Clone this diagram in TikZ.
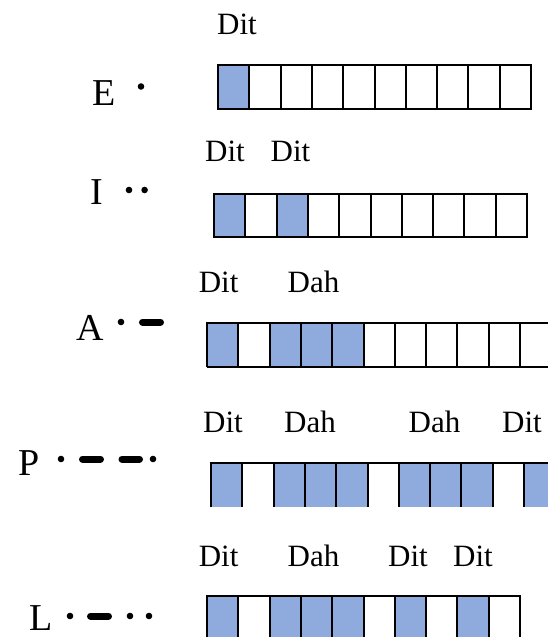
\documentclass[tikz,border=0pt]{standalone}
\usepackage{fontspec}
\setmainfont{Liberation Serif}
\definecolor{morseblue}{RGB}{143,170,220}
\tikzset{
  gridline/.style={line width=2pt, line join=miter},
  cellfill/.style={fill=morseblue},
  lbl/.style={font=\fontsize{31}{31}\selectfont, anchor=base, inner sep=0pt},
  letter/.style={font=\fontsize{38}{38}\selectfont, anchor=base, inner sep=0pt},
  dotmark/.style={fill=black},
  dashmark/.style={line width=7pt, line cap=round}
}
\begin{document}
\begin{tikzpicture}[x=1pt,y=-1pt]
\useasboundingbox (0,0) rectangle (548,637);
\clip (0,0) rectangle (548,637);
\def\w{31.3}
% ---------- Row E ----------
\fill[cellfill] (218,65) rectangle ({218+\w},109);
\draw[gridline] (218,65) rectangle ({218+10*\w},109);
\foreach \i in {1,...,9} \draw[gridline] ({218+\i*\w},65) -- ++(0,44);
\node[lbl] (dE1) at (237,34) {Dit};
\node[letter] (E) at (104,105) {E};
\fill[dotmark] (141,86.5) circle (3.3);
% ---------- Row I ----------
\foreach \i in {1,3} \fill[cellfill] ({214+(\i-1)*\w},194) rectangle ({214+\i*\w},237);
\draw[gridline] (214,194) rectangle ({214+10*\w},237);
\foreach \i in {1,...,9} \draw[gridline] ({214+\i*\w},194) -- ++(0,43);
\node[lbl] (dI1) at (225,161) {Dit};
\node[lbl] (dI2) at (290.5,161) {Dit};
\node[letter] (I) at (96.5,204) {I};
\fill[dotmark] (129,190) circle (3.3);
\fill[dotmark] (144.6,190) circle (3.3);
% ---------- Row A ----------
\foreach \i in {1,3,4,5} \fill[cellfill] ({207+(\i-1)*\w},323) rectangle ({207+\i*\w},367);
\draw[gridline] (207,367) -- (207,323) -- (560,323);
\draw[gridline] (207,367) -- (560,367);
\foreach \i in {1,...,11} \draw[gridline] ({207+\i*\w},323) -- ++(0,44);
\node[lbl] (dA1) at (218.6,292) {Dit};
\node[lbl] (dA2) at (313.5,292) {Dah};
\node[letter] (A) at (90,340) {A};
\fill[dotmark] (121,322) circle (3.3);
\draw[dashmark] (142.5,322) -- (160.5,322);
% ---------- Row P ----------
\foreach \i in {1,3,4,5,7,8,9,11} \fill[cellfill] ({211+(\i-1)*\w},463) rectangle ({211+\i*\w},507);
\draw[gridline] (211,507) -- (211,463) -- (560,463);
\foreach \i in {1,...,11} \draw[gridline] ({211+\i*\w},463) -- ++(0,44);
\node[lbl] (dP1) at (223,432) {Dit};
\node[lbl] (dP2) at (310,432) {Dah};
\node[lbl] (dP3) at (434.5,432) {Dah};
\node[lbl] (dP4) at (522,432) {Dit};
\node[letter] (P) at (29,475) {P};
\fill[dotmark] (61,459) circle (3.3);
\draw[dashmark] (82.5,459) -- (100.5,459);
\draw[dashmark] (122,459) -- (139.5,459);
\fill[dotmark] (153,459) circle (3.3);
% ---------- Row L ----------
\foreach \i in {1,3,4,5,7,9} \fill[cellfill] ({207+(\i-1)*\w},596) rectangle ({207+\i*\w},645);
\draw[gridline] (207,645) -- (207,596) -- ({207+10*\w},596) -- ({207+10*\w},645);
\foreach \i in {1,...,9} \draw[gridline] ({207+\i*\w},596) -- ++(0,49);
\node[lbl] (dL1) at (218.6,566) {Dit};
\node[lbl] (dL2) at (313.5,566) {Dah};
\node[lbl] (dL3) at (408,566) {Dit};
\node[lbl] (dL4) at (473,566) {Dit};
\node[letter] (L) at (41,630) {L};
\fill[dotmark] (70,616) circle (3.3);
\draw[dashmark] (90.5,616) -- (108.5,616);
\fill[dotmark] (130,616) circle (3.3);
\fill[dotmark] (149,616) circle (3.3);
\end{tikzpicture}
\end{document}
